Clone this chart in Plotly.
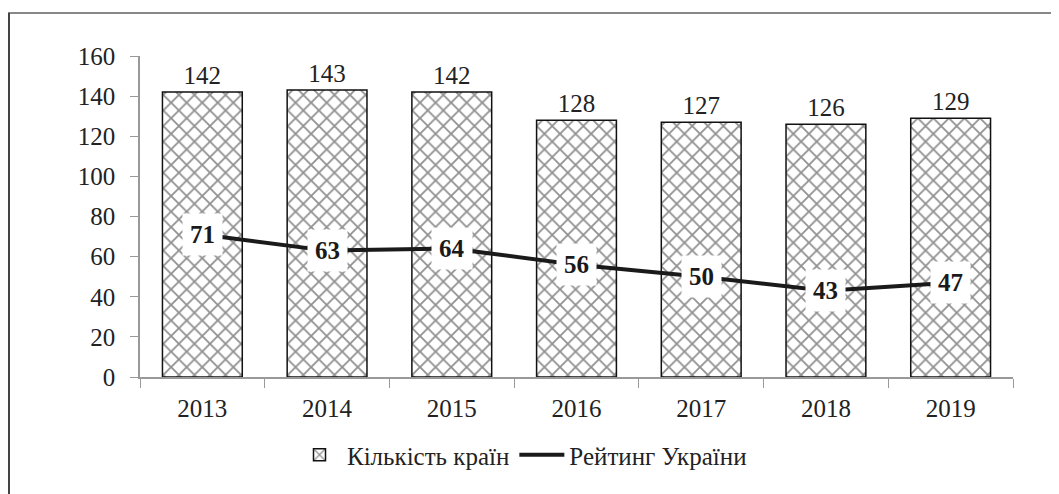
import plotly.graph_objects as go

years = ["2013", "2014", "2015", "2016", "2017", "2018", "2019"]
countries = [142, 143, 142, 128, 127, 126, 129]
ukraine_rank = [71, 63, 64, 56, 50, 43, 47]

FONT = "Liberation Serif"
FS = 25

fig = go.Figure()
fig.add_trace(go.Bar(
    x=years, y=countries, name="Кількість країн",
    width=0.64,
    marker=dict(color="white", line=dict(color="#111", width=1.5),
                pattern=dict(shape="x", fgcolor="#222", bgcolor="white", size=11, solidity=0.3)),
    text=[str(v) for v in countries], textposition="outside",
    textfont=dict(family=FONT, size=FS, color="#222"),
    cliponaxis=False,
))
fig.add_trace(go.Scatter(
    x=years, y=ukraine_rank, name="Рейтинг України", mode="lines",
    line=dict(color="#1a1a1a", width=4),
))
for i, y in enumerate(ukraine_rank):
    fig.add_annotation(x=i, y=y, text=f"<b>{y}</b>", showarrow=False,
                       bgcolor="white", borderpad=7,
                       font=dict(family=FONT, size=FS, color="#1a1a1a"))

# page body has an 8px margin; work in reference pixel coords then shift
OFF = 8
W, H = 1059 - OFF, 494 - OFF
l, r, t, b = 140 - OFF, 46, 56 - OFF, 117
pw, ph = W - l - r, H - t - b
def px2x(p): return (p - OFF - l) / pw
def py2y(p): return 1 - (p - OFF - t) / ph

fig.add_shape(type="line", xref="paper", yref="paper",
              x0=px2x(8), x1=px2x(1060), y0=py2y(13), y1=py2y(13),
              line=dict(color="#888", width=2))
fig.add_shape(type="line", xref="paper", yref="paper",
              x0=px2x(9), x1=px2x(9), y0=py2y(13), y1=py2y(500),
              line=dict(color="#444", width=2))

fig.update_layout(
    width=W, height=H,
    margin=dict(l=l, r=r, t=t, b=b),
    plot_bgcolor="white", paper_bgcolor="white",
    font=dict(family=FONT, size=FS, color="#222"),
    showlegend=True,
    legend=dict(orientation="h", x=px2x(522), xanchor="center", y=py2y(455), yanchor="middle",
                font=dict(family=FONT, size=FS, color="#222"),
                itemwidth=45, traceorder="normal"),
    xaxis=dict(type="category", range=[-0.5, 6.5], showline=True, linecolor="#999", linewidth=1.5,
               ticks="outside", tickson="boundaries", ticklen=9, tickcolor="#999",
               tickangle=0, ticklabelstandoff=8,
               tickfont=dict(family=FONT, size=FS, color="#222"), showgrid=False),
    yaxis=dict(range=[0, 160], dtick=20, showline=True, linecolor="#999", linewidth=1.5,
               ticks="outside", ticklen=8, tickcolor="#999", showgrid=False, zeroline=False,
               ticklabelstandoff=10,
               tickfont=dict(family=FONT, size=FS, color="#222")),
)

fig.write_html("out.html")
